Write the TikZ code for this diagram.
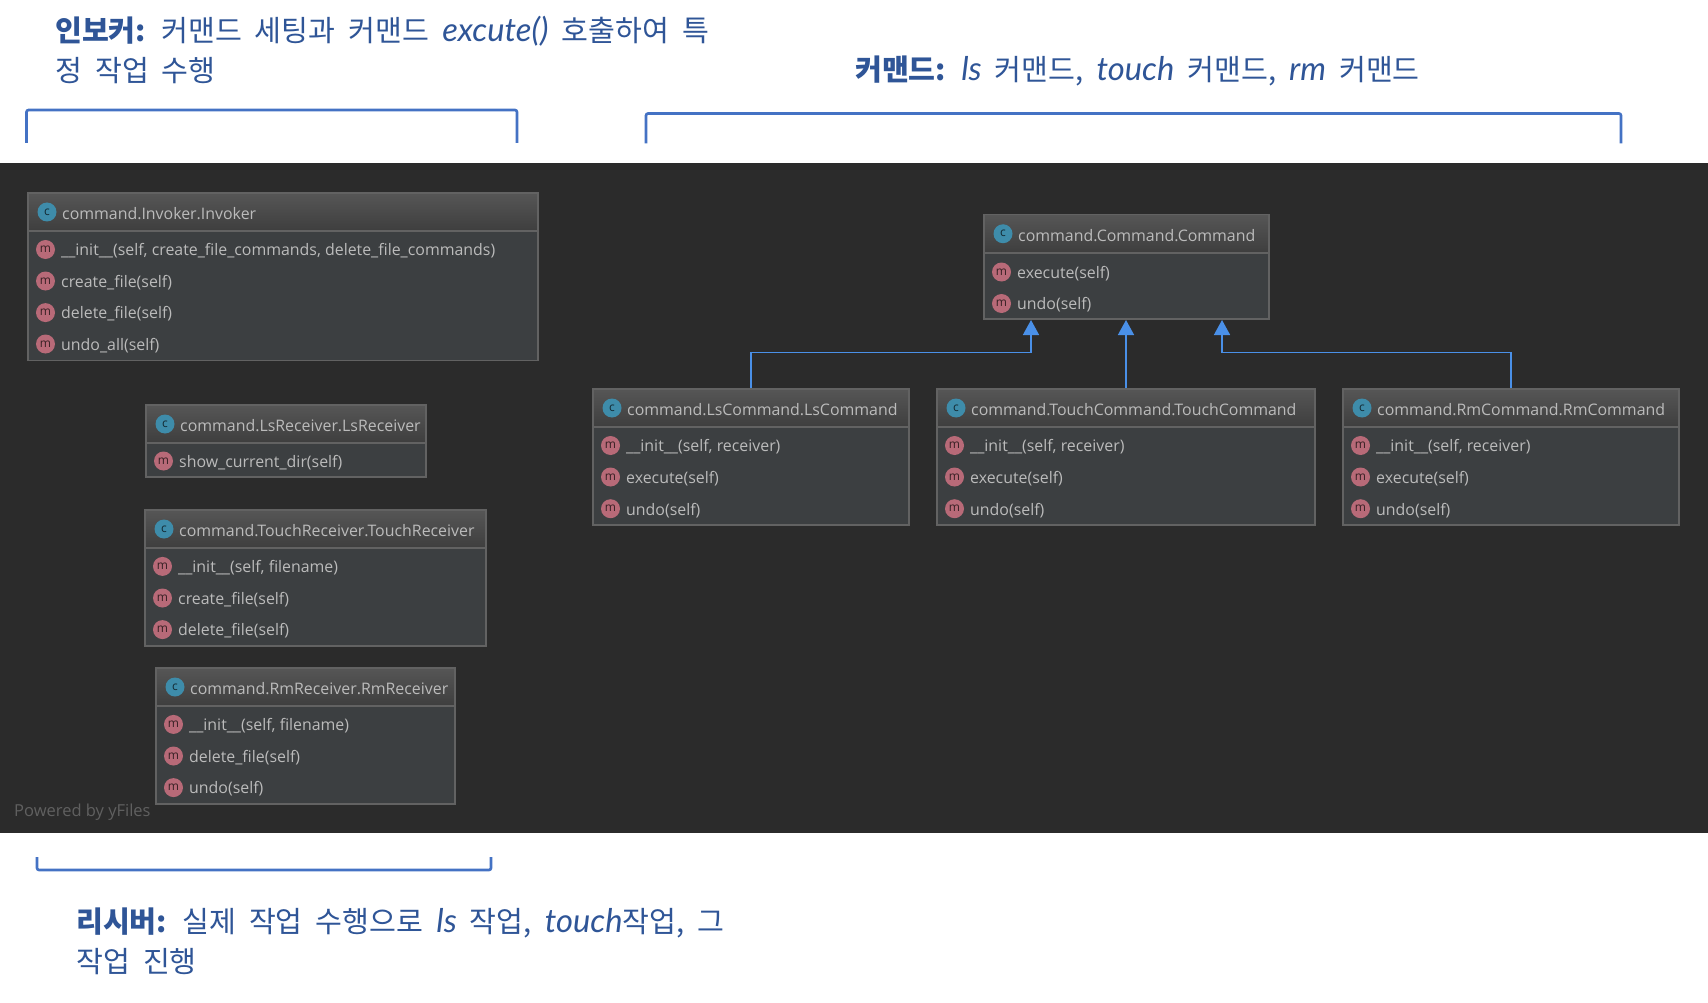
\documentclass[tikz,border=0pt]{standalone}
\usepackage{fontspec}
\setmainfont{Open Sans}
\newfontfamily\krfont[WordSpace=2]{Noto Sans CJK KR}
\newfontfamily\latinfont[Scale=1.12]{Lato}
\usepackage{xcolor}
\usetikzlibrary{arrows.meta,fit,calc}
\definecolor{idebg}{RGB}{43,43,43}
\definecolor{classfill}{RGB}{60,63,65}
\definecolor{classedge}{RGB}{98,98,98}
\definecolor{headtop}{RGB}{86,86,86}
\definecolor{headbot}{RGB}{62,62,62}
\definecolor{rowtext}{RGB}{187,187,187}
\definecolor{yfilescol}{RGB}{96,96,96}
\definecolor{iconteal}{RGB}{62,140,170}
\definecolor{iconrose}{RGB}{184,106,120}
\definecolor{inheritcol}{RGB}{74,144,232}
\definecolor{bracketcol}{RGB}{68,114,196}
\definecolor{notecol}{RGB}{47,85,151}
\newcommand{\hl}[1]{{\latinfont\itshape #1}}
\tikzset{
  classbody/.style={draw=classedge, line width=1.2pt, inner sep=0pt},
  classicon/.style={circle, fill=iconteal, minimum size=19pt, inner sep=0pt, text=black!70!iconteal, font=\fontsize{12}{12}\selectfont},
  methodicon/.style={circle, fill=iconrose, minimum size=19pt, inner sep=0pt, text=black!70!iconrose, font=\fontsize{12}{12}\selectfont},
  titletext/.style={anchor=west, inner sep=0pt, yshift=-1.5pt, text=rowtext, font=\fontsize{15.9}{18}\selectfont},
  bracket/.style={draw=bracketcol, line width=2.6pt, rounded corners=2pt},
  note/.style={anchor=north west, inner sep=0pt, align=left, text=notecol, font=\krfont\fontsize{29.2}{40}\selectfont},
  inherit/.style={draw=inheritcol, line width=1.5pt, -{Triangle[length=15pt,width=16pt]}}
}
% name, left, top, right, bottom, header bottom, title
\newcommand{\umlclass}[7]{
  \node[classbody, fill=classfill, fit={(#2,#3) (#4,#5)}] (#1) {};
  \shade[top color=headtop, bottom color=headbot] (#2,#3) rectangle (#4,#6);
  \draw[classedge, line width=1.2pt] (#2,#6) -- (#4,#6);
  \draw[classedge, line width=1.2pt] (#2,#3) rectangle (#4,#5);
  \node[classicon] (#1-icon) at (#2+19,{(#3+#6)/2}) {c};
  \node[titletext] (#1-title) at (#2+34,{(#3+#6)/2}) {#7};
}
% name, left, y, text
\newcommand{\umlrow}[4]{
  \node[methodicon] (#1-m) at (#2+17.5,#3) {m};
  \node[titletext] (#1-t) at (#2+33,#3) {#4};
}

\begin{document}
\begin{tikzpicture}[x=1pt, y=-1pt]
    \useasboundingbox (0,0) rectangle (1708,1003);
    \fill[white] (0,0) rectangle (1708,1003);

    % Dark canvas
    \fill[idebg] (0,163) rectangle (1708,833);

    % Notes
    \node[note] (invnote) at (55,16) {{\bfseries 인보커:} 커맨드 세팅과 커맨드 \hl{excute()} 호출하여 특\\정 작업 수행};
    \node[note] (cmdnote) at (855,56) {{\bfseries 커맨드:} \hl{ls} 커맨드, \hl{touch} 커맨드, \hl{rm} 커맨드};
    \node[note] (recnote) at (76,908) {{\bfseries 리시버:} 실제 작업 수행으로 \hl{ls} 작업, \hl{touch}작업, 그\\작업 진행};

    % Brackets
    \draw[bracket] (26.5,143) -- (26.5,110) -- (517,110) -- (517,143);
    \draw[bracket] (646,143.5) -- (646,113.5) -- (1621,113.5) -- (1621,143.5);
    \draw[bracket] (37,857) -- (37,870) -- (491,870) -- (491,857);

    % Left column
    \umlclass{invoker}{28}{193}{538}{360.5}{231}{command.Invoker.Invoker}
    \umlrow{invinit}{28}{249.5}{\_\_init\_\_(self, create\_file\_commands, delete\_file\_commands)}
    \umlrow{invcreate}{28}{281}{create\_file(self)}
    \umlrow{invdelete}{28}{312.6}{delete\_file(self)}
    \umlrow{invundo}{28}{344}{undo\_all(self)}

    \umlclass{lsrec}{146}{405}{426}{477}{443}{command.LsReceiver.LsReceiver}
    \umlrow{lsrecshow}{146}{461}{show\_current\_dir(self)}

    \umlclass{touchrec}{145}{510}{486}{646}{548}{command.TouchReceiver.TouchReceiver}
    \umlrow{touchrecinit}{145}{566.4}{\_\_init\_\_(self, filename)}
    \umlrow{touchreccreate}{145}{598}{create\_file(self)}
    \umlrow{touchrecdelete}{145}{629.6}{delete\_file(self)}

    \umlclass{rmrec}{156}{668}{455}{804}{706}{command.RmReceiver.RmReceiver}
    \umlrow{rmrecinit}{156}{724.4}{\_\_init\_\_(self, filename)}
    \umlrow{rmrecdelete}{156}{756}{delete\_file(self)}
    \umlrow{rmrecundo}{156}{787.6}{undo(self)}

    % Command hierarchy
    \umlclass{cmd}{984}{214.5}{1269}{319}{253}{command.Command.Command}
    \umlrow{cmdexec}{984}{272}{execute(self)}
    \umlrow{cmdundo}{984}{303.5}{undo(self)}

    \umlclass{lscmd}{593}{389}{909}{525}{427}{command.LsCommand.LsCommand}
    \umlrow{lsinit}{593}{445.5}{\_\_init\_\_(self, receiver)}
    \umlrow{lsexec}{593}{477}{execute(self)}
    \umlrow{lsundo}{593}{508.7}{undo(self)}

    \umlclass{touchcmd}{937}{389}{1315}{525}{427}{command.TouchCommand.TouchCommand}
    \umlrow{touchinit}{937}{445.5}{\_\_init\_\_(self, receiver)}
    \umlrow{touchexec}{937}{477}{execute(self)}
    \umlrow{touchundo}{937}{508.7}{undo(self)}

    \umlclass{rmcmd}{1343}{389}{1679}{525}{427}{command.RmCommand.RmCommand}
    \umlrow{rminit}{1343}{445.5}{\_\_init\_\_(self, receiver)}
    \umlrow{rmexec}{1343}{477}{execute(self)}
    \umlrow{rmundo}{1343}{508.7}{undo(self)}

    % Inheritance
    \coordinate (cmdleft) at (1031,320);
    \coordinate (cmdmid) at (1126,320);
    \coordinate (cmdright) at (1222,320);
    \draw[inherit] (lscmd.north) -- ++(0,-36) -| (cmdleft);
    \draw[inherit] (touchcmd.north) -- (cmdmid);
    \draw[inherit] (rmcmd.north) -- ++(0,-36) -| (cmdright);

    \node[anchor=west, inner sep=0pt, text=yfilescol, font=\fontsize{16.5}{18}\selectfont] (yfiles) at (14,812) {Powered by yFiles};
\end{tikzpicture}
\end{document}
